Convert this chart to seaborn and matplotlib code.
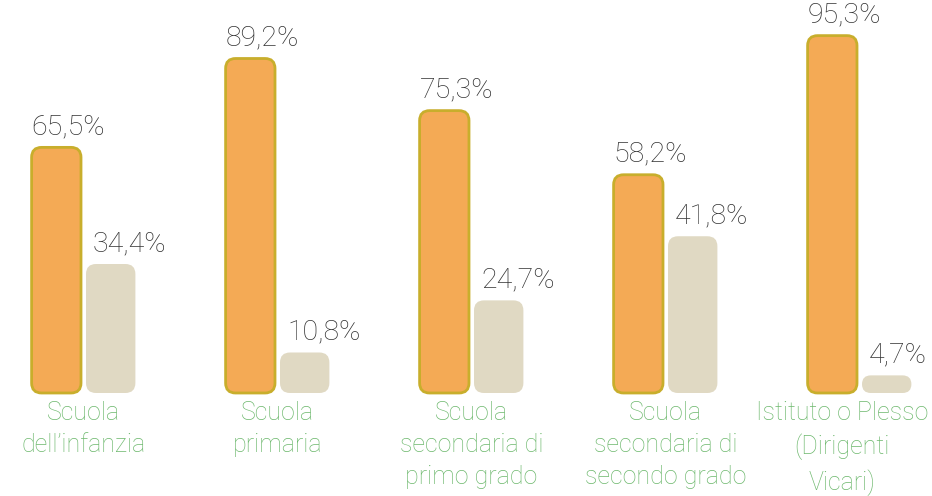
import matplotlib
matplotlib.use("Agg")
import matplotlib.pyplot as plt
from matplotlib.patches import FancyBboxPatch
import seaborn as sns
import pandas as pd

categories = ["Scuola\ndell’infanzia", "Scuola\nprimaria", "Scuola\nsecondaria di\nprimo grado",
              "Scuola\nsecondaria di\nsecondo grado", "Istituto o Plesso\n(Dirigenti\nVicari)"]
series_a = [65.5, 89.2, 75.3, 58.2, 95.3]
series_b = [34.4, 10.8, 24.7, 41.8, 4.7]
series_names = ["Serie A", "Serie B"]

ORANGE = "#F4AA55"
EDGE = "#C8AE2C"
BEIGE = "#E0D9C3"
GREEN = "#6DB86D"
TEXT = "#333333"

sns.set_theme(style="white")
plt.rcParams['font.family'] = ['Roboto', 'DejaVu Sans']

df = pd.DataFrame({
    "cat": categories * 2,
    "val": series_a + series_b,
    "serie": [series_names[0]] * len(categories) + [series_names[1]] * len(categories),
})

W, H = 932, 496
fig = plt.figure(figsize=(W / 100, H / 100), dpi=100)
ax = fig.add_axes([0, 0, 1, 1])

sns.barplot(data=df, x="cat", y="val", hue="serie", palette=[ORANGE, BEIGE],
            width=0.535, legend=False, ax=ax, saturation=1)

px_x = 194.0   # pixels per x unit
px_y = 3.75    # pixels per y unit
x0 = -83.5 / px_x
ax.set_xlim(x0, x0 + W / px_x)
y0 = -(H - 393) / px_y
ax.set_ylim(y0, y0 + H / px_y)
ax.axis("off")

aspect = px_x / px_y
patches = list(ax.patches)
for p in patches:
    p.set_visible(False)

n = len(categories)
gap = 2.5 / px_x
for i, p in enumerate(patches[:2 * n]):
    is_a = i < n
    x, w, h = p.get_x(), p.get_width(), p.get_height()
    if is_a:
        w = w - gap
    else:
        x = x + gap
        w = w - gap
    r_px = min(10.0, h * px_y / 2)
    r = r_px / px_x
    fb = FancyBboxPatch((x, 0), w, h,
                        boxstyle=f"round,pad=0,rounding_size={r}",
                        mutation_aspect=aspect,
                        facecolor=ORANGE if is_a else BEIGE,
                        edgecolor=EDGE if is_a else "none",
                        linewidth=2.0 if is_a else 0, zorder=3)
    ax.add_patch(fb)
    lab = f"{h:.1f}".replace(".", ",") + "%"
    off = 0 if is_a else 7 / px_x
    ax.text(x + off, h + 7 / px_y, lab, ha="left", va="bottom",
            fontsize=20.5, fontweight="light", color=TEXT, zorder=4)

fig.canvas.draw()
renderer = fig.canvas.get_renderer()
for i, c in enumerate(categories):
    t = ax.text(i, -8 / px_y, c, ha="center", va="top", fontsize=18,
                fontweight="light", color=GREEN, linespacing=1.42)
    bb = t.get_window_extent(renderer)
    if bb.x1 > W - 4:
        t.set_x(i - (bb.x1 - (W - 4)) / px_x)

fig.savefig("out.png", dpi=100)
